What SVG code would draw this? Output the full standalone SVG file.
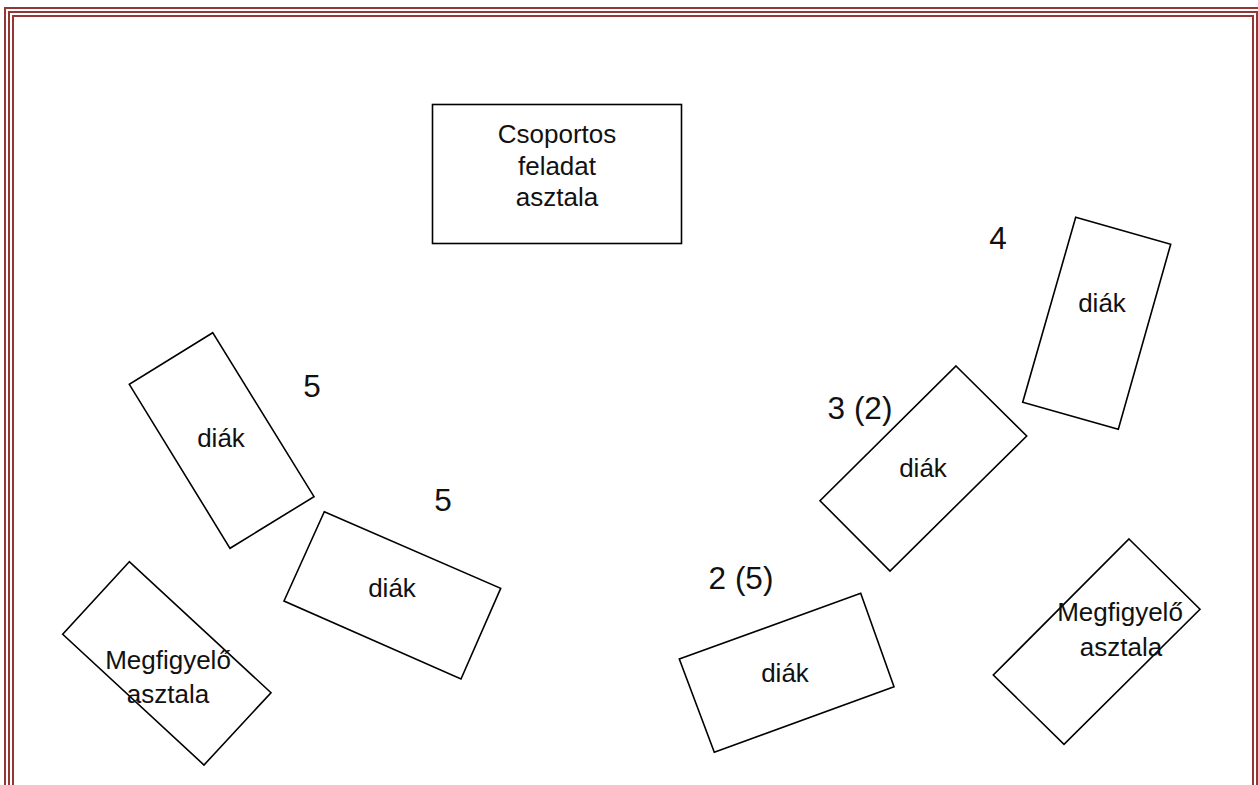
<svg xmlns="http://www.w3.org/2000/svg" width="1258" height="785" viewBox="0 0 1258 785">
<style>
.frame{fill:none;stroke:#943634;stroke-width:2}
.tbl{fill:#ffffff;stroke:#000000;stroke-width:1.6}
.t{font-family:"Liberation Sans",Arial,sans-serif;font-size:26px;fill:#111111;text-anchor:middle}
.n{font-family:"Liberation Sans",Arial,sans-serif;font-size:31.5px;fill:#111111;text-anchor:middle}
</style>
<rect width="1258" height="785" fill="#ffffff"/>
<g id="frame">
<rect class="frame" x="5" y="8" width="1256" height="800"/>
<rect class="frame" x="9" y="12" width="1248" height="790"/>
<rect class="frame" x="13" y="16" width="1240" height="780"/>
</g>
<g id="task-table">
<rect class="tbl" x="432.5" y="104.5" width="249" height="139"/>
<text class="t" x="557" y="143">Csoportos</text>
<text class="t" x="557" y="175">feladat</text>
<text class="t" x="557" y="206">asztala</text>
</g>
<g id="student-left-top">
<polygon class="tbl" points="212.7,332.7 129.3,384.3 230,548.3 314,496.7"/>
<text class="t" x="221" y="447">diák</text>
</g>
<g id="student-left-bottom">
<polygon class="tbl" points="324.3,511.7 500.7,588.3 461,679 284,601"/>
<text class="t" x="392" y="597">diák</text>
</g>
<g id="observer-left">
<polygon class="tbl" points="129.3,561.7 62.7,634.3 204,765 271,692.7"/>
<text class="t" x="168" y="669">Megfigyelő</text>
<text class="t" x="168" y="703">asztala</text>
</g>
<g id="student-right-bottom">
<polygon class="tbl" points="860.7,593.3 894,686.7 714.3,752.3 679.3,659"/>
<text class="t" x="785" y="682">diák</text>
</g>
<g id="student-right-mid">
<polygon class="tbl" points="956,366 1026.7,436 890,571 820,500.7"/>
<text class="t" x="923" y="477">diák</text>
</g>
<g id="student-right-top">
<polygon class="tbl" points="1075.7,217.3 1170.7,244.3 1118.3,429.3 1022.7,402.3"/>
<text class="t" x="1102" y="312">diák</text>
</g>
<g id="observer-right">
<polygon class="tbl" points="1129,539 1200,609.3 1064,744.3 993.3,675"/>
<text class="t" x="1120" y="621">Megfigyelő</text>
<text class="t" x="1121" y="656">asztala</text>
</g>
<g id="labels">
<text class="n" x="312" y="397">5</text>
<text class="n" x="443" y="511">5</text>
<text class="n" x="998" y="249">4</text>
<text class="n" x="860" y="419">3 (2)</text>
<text class="n" x="741" y="589">2 (5)</text>
</g>
</svg>
